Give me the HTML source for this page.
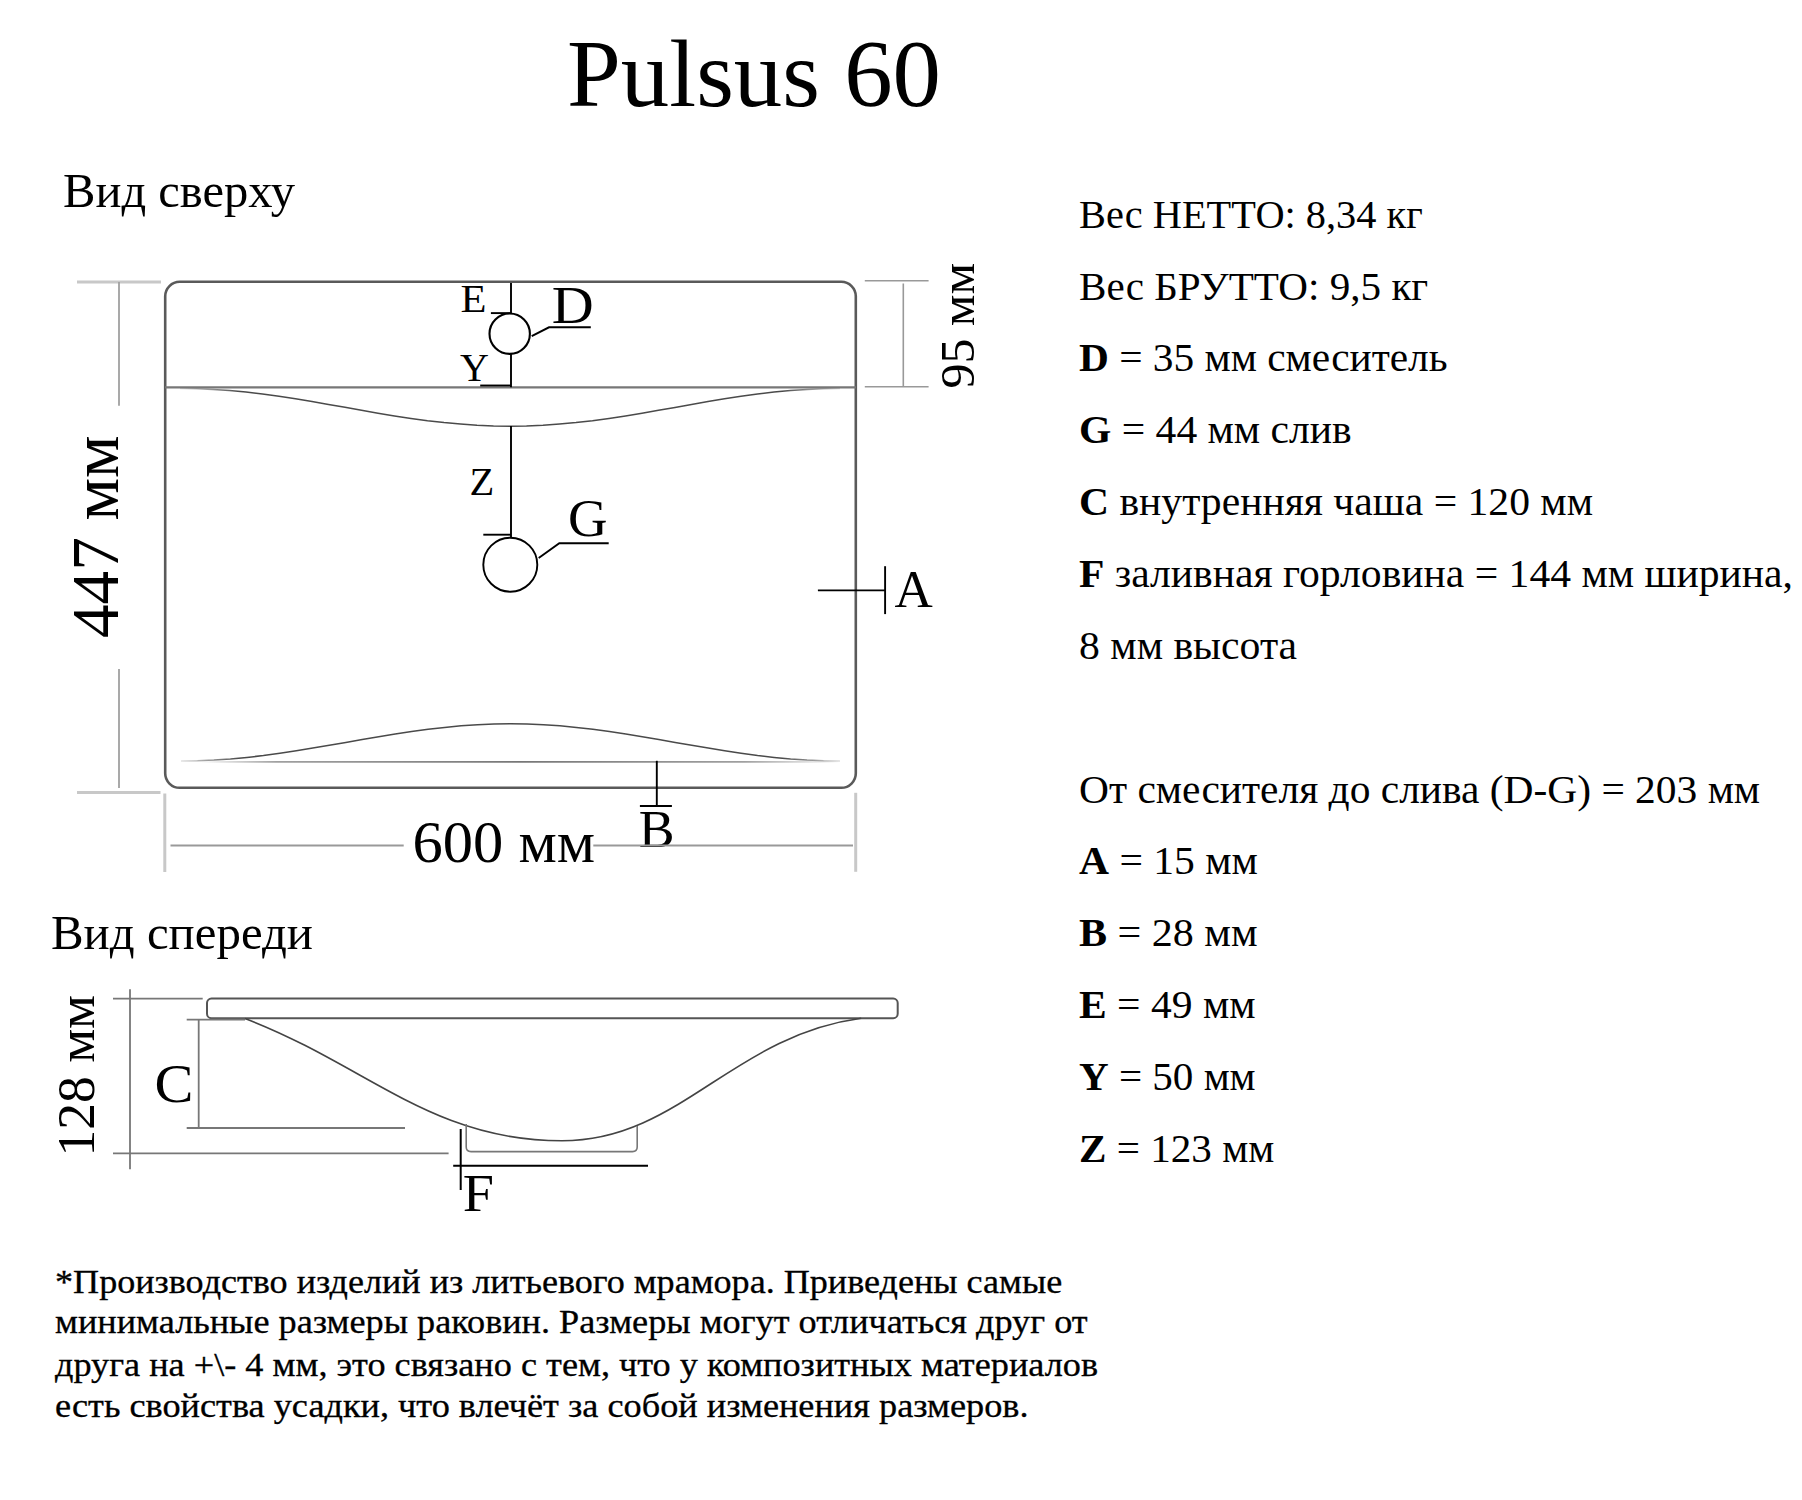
<!DOCTYPE html>
<html><head><meta charset="utf-8">
<style>
html,body{margin:0;padding:0;background:#fff;}
body{width:1802px;height:1500px;overflow:hidden;position:relative;}
svg{position:absolute;left:0;top:0;}
text{font-family:"Liberation Serif",serif;fill:#000;}
.b{font-weight:bold;}
.fn{stroke:#000;stroke-width:0.3px;}
</style></head><body>
<svg width="1802" height="1500" viewBox="0 0 1802 1500">
<text x="567" y="105.5" font-size="96" textLength="374" lengthAdjust="spacingAndGlyphs">Pulsus 60</text>
<text x="63" y="206.5" font-size="48.5" textLength="232" lengthAdjust="spacingAndGlyphs">Вид сверху</text>
<text x="51" y="948.5" font-size="48.5" textLength="262" lengthAdjust="spacingAndGlyphs">Вид спереди</text>
<text x="1079" y="227.6" font-size="40" textLength="343.7" lengthAdjust="spacingAndGlyphs">Вес НЕТТО: 8,34 кг</text>
<text x="1079" y="299.5" font-size="40" textLength="349.2" lengthAdjust="spacingAndGlyphs">Вес БРУТТО: 9,5 кг</text>
<text x="1079" y="371.3" font-size="40" textLength="368.6" lengthAdjust="spacingAndGlyphs"><tspan class="b">D</tspan> = 35 мм смеситель</text>
<text x="1079" y="443.2" font-size="40" textLength="272.7" lengthAdjust="spacingAndGlyphs"><tspan class="b">G</tspan> = 44 мм слив</text>
<text x="1079" y="515.0" font-size="40" textLength="514.0" lengthAdjust="spacingAndGlyphs"><tspan class="b">C</tspan> внутренняя чаша = 120 мм</text>
<text x="1079" y="586.9" font-size="40" textLength="714.0" lengthAdjust="spacingAndGlyphs"><tspan class="b">F</tspan> заливная горловина = 144 мм ширина,</text>
<text x="1079" y="658.8" font-size="40" textLength="218.1" lengthAdjust="spacingAndGlyphs">8 мм высота</text>
<text x="1079" y="802.5" font-size="40" textLength="681.1" lengthAdjust="spacingAndGlyphs">От смесителя до слива (D-G) = 203 мм</text>
<text x="1079" y="874.3" font-size="40" textLength="178.8" lengthAdjust="spacingAndGlyphs"><tspan class="b">A</tspan> = 15 мм</text>
<text x="1079" y="946.2" font-size="40" textLength="178.6" lengthAdjust="spacingAndGlyphs"><tspan class="b">B</tspan> = 28 мм</text>
<text x="1079" y="1018.1" font-size="40" textLength="176.5" lengthAdjust="spacingAndGlyphs"><tspan class="b">E</tspan> = 49 мм</text>
<text x="1079" y="1089.9" font-size="40" textLength="176.6" lengthAdjust="spacingAndGlyphs"><tspan class="b">Y</tspan> = 50 мм</text>
<text x="1079" y="1161.8" font-size="40" textLength="195.2" lengthAdjust="spacingAndGlyphs"><tspan class="b">Z</tspan> = 123 мм</text>
<text x="55" y="1292.5" font-size="33" textLength="1007.2" lengthAdjust="spacingAndGlyphs" class="fn">*Производство изделий из литьевого мрамора. Приведены самые</text>
<text x="55" y="1333.2" font-size="33" textLength="1032.6" lengthAdjust="spacingAndGlyphs" class="fn">минимальные размеры раковин. Размеры могут отличаться друг от</text>
<text x="55" y="1375.7" font-size="33" textLength="1043.0" lengthAdjust="spacingAndGlyphs" class="fn">друга на +\- 4 мм, это связано с тем, что у композитных материалов</text>
<text x="55" y="1417.3" font-size="33" textLength="973.5" lengthAdjust="spacingAndGlyphs" class="fn">есть свойства усадки, что влечёт за собой изменения размеров.</text>
<text x="551.8" y="322.8" font-size="53" textLength="42" lengthAdjust="spacingAndGlyphs">D</text>
<text x="460.5" y="311.7" font-size="39" textLength="26" lengthAdjust="spacingAndGlyphs">E</text>
<text x="460" y="380.6" font-size="40">Y</text>
<text x="469.5" y="495.3" font-size="40.5">Z</text>
<text x="568" y="536" font-size="53" textLength="39.5" lengthAdjust="spacingAndGlyphs">G</text>
<text x="894.5" y="607" font-size="53">A</text>
<text x="638.8" y="846.8" font-size="53" textLength="35.8" lengthAdjust="spacingAndGlyphs">B</text>
<text x="412.5" y="862.3" font-size="59" textLength="182.7" lengthAdjust="spacingAndGlyphs">600 мм</text>
<text x="154.6" y="1102" font-size="54" textLength="39" lengthAdjust="spacingAndGlyphs">C</text>
<text x="462.8" y="1211.4" font-size="53" textLength="31.2" lengthAdjust="spacingAndGlyphs">F</text>
<text transform="translate(973.5,388.5) rotate(-90)" x="0" y="0" font-size="49" textLength="125.5" lengthAdjust="spacingAndGlyphs">95 мм</text>
<text transform="translate(118.1,638) rotate(-90)" x="0" y="0" font-size="67.5" textLength="202.5" lengthAdjust="spacingAndGlyphs">447 мм</text>
<text transform="translate(94,1156.5) rotate(-90)" x="0" y="0" font-size="52.5" textLength="161.5" lengthAdjust="spacingAndGlyphs">128 мм</text>

<defs>
  <linearGradient id="gt" gradientUnits="userSpaceOnUse" x1="180" y1="0" x2="842" y2="0">
    <stop offset="0" stop-color="#4a4a4a" stop-opacity="0.15"/>
    <stop offset="0.09" stop-color="#4a4a4a" stop-opacity="1"/>
    <stop offset="0.91" stop-color="#4a4a4a" stop-opacity="1"/>
    <stop offset="1" stop-color="#4a4a4a" stop-opacity="0.15"/>
  </linearGradient>
  <linearGradient id="gl" gradientUnits="userSpaceOnUse" x1="200" y1="0" x2="840" y2="0">
    <stop offset="0" stop-color="#888" stop-opacity="0"/>
    <stop offset="0.12" stop-color="#888" stop-opacity="0.8"/>
    <stop offset="0.5" stop-color="#777" stop-opacity="1"/>
    <stop offset="0.85" stop-color="#888" stop-opacity="0.8"/>
    <stop offset="1" stop-color="#888" stop-opacity="0"/>
  </linearGradient>
</defs>
<g fill="none" stroke-linecap="butt">
  <rect x="165.2" y="281.8" width="690.6" height="506" rx="14.5" ry="14.5" stroke="#5a5a5a" stroke-width="2.6"/>
  <line x1="165" y1="387.3" x2="856" y2="387.3" stroke="#777" stroke-width="2.2"/>
  <path d="M180.0,388.5 L196.5,388.7 L213.0,389.4 L229.5,390.6 L246.0,392.1 L262.5,394.0 L279.0,396.3 L295.5,398.8 L312.0,401.5 L328.5,404.4 L345.0,407.3 L361.5,410.3 L378.0,413.2 L394.5,415.9 L411.0,418.4 L427.5,420.7 L444.0,422.6 L460.5,424.1 L477.0,425.3 L493.5,426.0 L510.0,426.2 L526.5,426.0 L543.0,425.3 L559.5,424.1 L576.0,422.6 L592.5,420.7 L609.0,418.4 L625.5,415.9 L642.0,413.2 L658.5,410.3 L675.0,407.4 L691.5,404.4 L708.0,401.5 L724.5,398.8 L741.0,396.3 L757.5,394.0 L774.0,392.1 L790.5,390.6 L807.0,389.4 L823.5,388.7 L840.0,388.5" stroke="url(#gt)" stroke-width="1.5"/>
  <path d="M200,761.8 L840,761.8" stroke="url(#gl)" stroke-width="1.8"/>
  <path d="M181.0,761.0 L197.5,760.8 L213.9,760.1 L230.4,759.0 L246.9,757.4 L263.4,755.6 L279.9,753.3 L296.3,750.8 L312.8,748.1 L329.3,745.3 L345.8,742.4 L362.2,739.5 L378.7,736.7 L395.2,734.0 L411.6,731.5 L428.1,729.2 L444.6,727.4 L461.1,725.8 L477.6,724.7 L494.0,724.0 L510.5,723.8 L527.0,724.0 L543.5,724.7 L559.9,725.8 L576.4,727.4 L592.9,729.2 L609.4,731.5 L625.8,734.0 L642.3,736.7 L658.8,739.5 L675.2,742.4 L691.7,745.3 L708.2,748.1 L724.7,750.8 L741.1,753.3 L757.6,755.6 L774.1,757.4 L790.6,759.0 L807.0,760.1 L823.5,760.8 L840.0,761.0" stroke="url(#gt)" stroke-width="1.5"/>

  <line x1="77" y1="281.9" x2="161" y2="281.9" stroke="#c8c8c8" stroke-width="3"/>
  <line x1="77" y1="792.5" x2="160.5" y2="792.5" stroke="#c8c8c8" stroke-width="3"/>
  <line x1="119" y1="282" x2="119" y2="405.7" stroke="#a0a0a0" stroke-width="1.8"/>
  <line x1="119" y1="669" x2="119" y2="788" stroke="#a0a0a0" stroke-width="1.8"/>
  <line x1="164.8" y1="793.5" x2="164.8" y2="872" stroke="#c8c8c8" stroke-width="3"/>
  <line x1="855.7" y1="792.8" x2="855.7" y2="871.8" stroke="#c8c8c8" stroke-width="3"/>
  <line x1="170.5" y1="845.5" x2="403.7" y2="845.5" stroke="#999" stroke-width="1.8"/>
  <line x1="593.3" y1="845.5" x2="853" y2="845.5" stroke="#999" stroke-width="1.8"/>
  <line x1="864.8" y1="280.8" x2="928.6" y2="280.8" stroke="#999" stroke-width="1.6"/>
  <line x1="864.8" y1="386.8" x2="928.6" y2="386.8" stroke="#999" stroke-width="1.6"/>
  <line x1="903.3" y1="283.5" x2="903.3" y2="386.8" stroke="#999" stroke-width="1.6"/>

  <g stroke="#000" stroke-width="1.9">
    <line x1="511" y1="283" x2="511" y2="313.5"/>
    <line x1="490.9" y1="313.1" x2="511" y2="313.1"/>
    <circle cx="509.7" cy="333.7" r="20.2" stroke-width="2.1"/>
    <polyline points="531.7,336.2 549,327.3 590.8,327.3"/>
    <line x1="511" y1="354" x2="511" y2="387.2"/>
    <line x1="480.2" y1="385.5" x2="511" y2="385.5"/>
    <line x1="511" y1="426" x2="511" y2="537.5"/>
    <line x1="483.3" y1="534.7" x2="511" y2="534.7"/>
    <circle cx="510.3" cy="564.7" r="27"/>
    <polyline points="538.7,558 559.3,543.3 608.7,543.3"/>
    <line x1="817.9" y1="590.4" x2="885" y2="590.4"/>
    <line x1="885.1" y1="566.2" x2="885.1" y2="614.1"/>
    <line x1="656.8" y1="760.8" x2="656.8" y2="806.1"/>
    <line x1="639.9" y1="806" x2="671.9" y2="806"/>
  </g>

  <rect x="207" y="998.6" width="690.7" height="19.6" rx="4.5" ry="4.5" stroke="#555" stroke-width="2"/>
  <line x1="113" y1="998.7" x2="202.7" y2="998.7" stroke="#777" stroke-width="1.8"/>
  <line x1="113" y1="1153.3" x2="448.6" y2="1153.3" stroke="#777" stroke-width="1.8"/>
  <line x1="130" y1="989.3" x2="130" y2="1169.3" stroke="#777" stroke-width="1.8"/>
  <line x1="186.7" y1="1019.7" x2="245" y2="1019.7" stroke="#777" stroke-width="1.8"/>
  <line x1="186.7" y1="1128" x2="405" y2="1128" stroke="#777" stroke-width="1.8"/>
  <line x1="198.7" y1="1020" x2="198.7" y2="1128" stroke="#777" stroke-width="1.8"/>
  <path d="M245,1018.5 C367.4,1065.4 430.7,1140.8 562,1140.8 C679.9,1140.8 732,1035.6 861.2,1018.2" stroke="#444" stroke-width="1.6"/>
  <path d="M466.2,1124 L466.2,1147 Q466.2,1151.6 471,1151.6 L632.5,1151.6 Q637.2,1151.6 637.2,1147 L637.2,1126" stroke="#777" stroke-width="1.6"/>
  <g stroke="#000" stroke-width="2">
    <line x1="453.2" y1="1165.7" x2="648" y2="1165.7"/>
    <line x1="460.7" y1="1129" x2="460.7" y2="1190"/>
  </g>
</g>

</svg>
</body></html>
